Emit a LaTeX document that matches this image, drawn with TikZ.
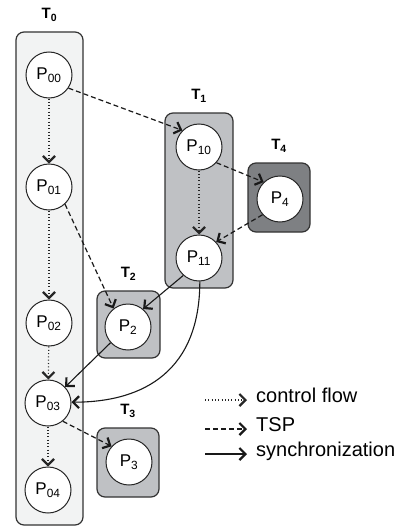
\documentclass[tikz,border=0pt]{standalone}
\usepackage{fontspec}
\setmainfont{Liberation Sans}
\usetikzlibrary{arrows.meta,positioning}

\definecolor{tzero}{HTML}{F2F3F3}
\definecolor{tmid}{HTML}{BFC1C4}
\definecolor{tdark}{HTML}{7E8083}
\definecolor{boxline}{HTML}{333333}

\begin{document}
\begin{tikzpicture}[x=1pt, y=-1pt,
    tbox/.style={rectangle, draw=boxline, line width=1.2pt, rounded corners=8pt, inner sep=0pt},
    proc/.style={circle, draw=black!85, line width=1pt, fill=white, minimum size=46pt, inner sep=0pt, font=\fontsize{17}{19}\selectfont},
    tlabel/.style={inner sep=0pt, label distance=10pt, font=\fontsize{15}{17}\selectfont\bfseries},
    barb/.style={-{Straight Barb[length=6pt, width=12pt, line width=2.2pt]}},
    ctrl/.style={barb, line width=1.2pt, dash pattern=on 1pt off 2.3pt, black!85},
    tsp/.style={barb, line width=1.2pt, dash pattern=on 5pt off 3pt, black!90},
    sync/.style={barb, line width=1.1pt, black!90},
    legtext/.style={anchor=mid west, inner sep=0pt, font=\fontsize{20}{24}\selectfont}]

    \path[use as bounding box, fill=white] (0,0) rectangle (406,527);

    % thread boxes
    \node (T0) [tbox, fill=tzero, minimum width=67pt, minimum height=493pt, label={[tlabel]above:{T\textsubscript{0}}}] at (49.5,278.5) {};
    \node (T1) [tbox, fill=tmid, minimum width=68pt, minimum height=175pt, label={[tlabel]above:{T\textsubscript{1}}}] at (199,200.5) {};
    \node (T4) [tbox, fill=tdark, minimum width=62pt, minimum height=69pt, label={[tlabel]above:{T\textsubscript{4}}}] at (279,197.5) {};
    \node (T2) [tbox, fill=tmid, minimum width=63pt, minimum height=67pt, label={[tlabel]above:{T\textsubscript{2}}}] at (128.5,324.5) {};
    \node (T3) [tbox, fill=tmid, minimum width=62pt, minimum height=69pt, label={[tlabel]above:{T\textsubscript{3}}}] at (128,462.5) {};

    % processes
    \node (P00) [proc] at (49,75) {P\textsubscript{00}};
    \node (P01) [proc] at (49,187) {P\textsubscript{01}};
    \node (P02) [proc] at (49,323) {P\textsubscript{02}};
    \node (P03) [proc] at (48,403) {P\textsubscript{03}};
    \node (P04) [proc] at (48,490) {P\textsubscript{04}};
    \node (P10) [proc] at (199,147) {P\textsubscript{10}};
    \node (P11) [proc] at (199,258) {P\textsubscript{11}};
    \node (P4) [proc] at (280,199) {P\textsubscript{4}};
    \node (P2) [proc] at (128,327) {P\textsubscript{2}};
    \node (P3) [proc] at (129,462) {P\textsubscript{3}};

    % control flow
    \draw[ctrl] (P00) -- (P01);
    \draw[ctrl] (P01) -- (P02);
    \draw[ctrl] (P02) -- (P03);
    \draw[ctrl] (P03) -- (P04);
    \draw[ctrl] (P10) -- (P11);

    % TSP
    \draw[tsp] (P00.-34) -- (P10.135);
    \draw[tsp] (P01.-47) -- (P2.128);
    \draw[tsp] (P10.-42) -- (P4.134);
    \draw[tsp] (P4.-138) -- (P11.43);
    \draw[tsp] (P03.-51) -- (P3.138);

    % synchronization
    \draw[sync] (P11.-132) -- (P2.50);
    \draw[sync] (P2.-138) -- (P03.43);
    \draw[sync] (P11.-88) .. controls +(0,88) and +(74,0) .. (P03.2);

    % legend
    \coordinate (cfa) at (205,400);
    \coordinate (cfb) at (247,400);
    \coordinate (tspa) at (205,429);
    \coordinate (tspb) at (247,429);
    \coordinate (synca) at (205,454);
    \coordinate (syncb) at (247,454);
    \draw[ctrl] (cfa) -- (cfb);
    \draw[tsp] (tspa) -- (tspb);
    \draw[sync] (synca) -- (syncb);
    \node (cftext) [legtext] at (256,400) {control flow};
    \node (tsptext) [legtext] at (256,429) {TSP};
    \node (synctext) [legtext] at (256,454) {synchronization};
\end{tikzpicture}
\end{document}
